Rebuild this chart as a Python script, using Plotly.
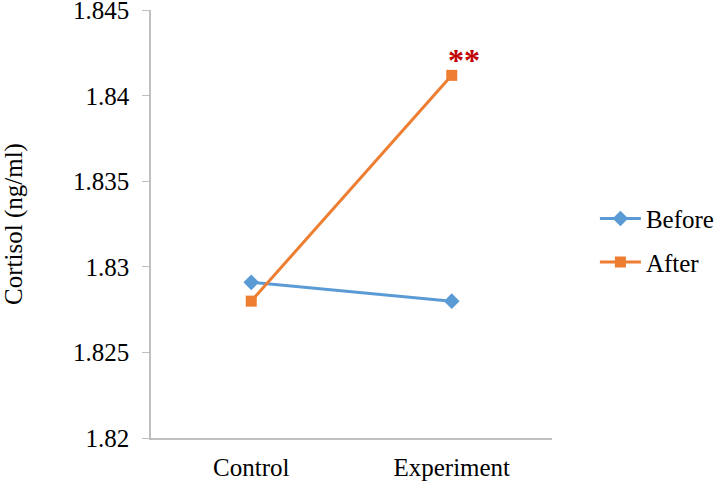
import plotly.graph_objects as go

categories = ["Control", "Experiment"]
before = [1.8291, 1.8280]
after = [1.8280, 1.8412]
y_ticks = [1.82, 1.825, 1.83, 1.835, 1.84, 1.845]
y_tick_labels = ["1.82", "1.825", "1.83", "1.835", "1.84", "1.845"]

font = "Liberation Serif"

fig = go.Figure()
fig.add_trace(go.Scatter(
    x=categories, y=before, name="Before", mode="lines+markers",
    legendgroup="b",
    line=dict(color="#5B9BD5", width=3),
    marker=dict(symbol="diamond", size=12, color="#5B9BD5"),
))
fig.add_trace(go.Scatter(
    x=categories, y=after, name="After", mode="lines+markers",
    legendgroup="a",
    line=dict(color="#ED7D31", width=3),
    marker=dict(symbol="square", size=11, color="#ED7D31"),
))
fig.add_annotation(
    x=categories[1], y=after[1], text="<b>**</b>", showarrow=False,
    xshift=12, yshift=15, font=dict(family=font, size=32, color="#C00000"),
)

fig.update_layout(
    width=716, height=484,
    margin=dict(l=151, r=164, t=10, b=46, autoexpand=False),
    paper_bgcolor="white", plot_bgcolor="white",
    font=dict(family=font, size=25, color="black"),
    showlegend=True,
    legend=dict(x=1.107, y=0.462, xanchor="left", yanchor="middle",
                font=dict(family=font, size=25), tracegroupgap=8,
                itemwidth=41,
                traceorder="grouped", bgcolor="rgba(0,0,0,0)"),
)
fig.update_xaxes(
    showgrid=False, showline=True, linecolor="#BFBFBF", linewidth=1.5,
    ticks="", range=[-0.5, 1.5], ticklabelstandoff=6, automargin=False,
)
fig.update_yaxes(
    range=[1.82, 1.84502], tickvals=y_ticks, ticktext=y_tick_labels,
    showgrid=False, showline=True, linecolor="#BFBFBF", linewidth=1.5,
    ticks="outside", ticklen=7, tickcolor="#BFBFBF", zeroline=False,
    automargin=False, ticklabelstandoff=8, ticklabeloverflow="allow",
    title=dict(text="Cortisol (ng/ml)", font=dict(family=font, size=25), standoff=50),
)

fig.write_html("out.html", config={"displayModeBar": False},
               post_script="document.body.style.margin='0';")
